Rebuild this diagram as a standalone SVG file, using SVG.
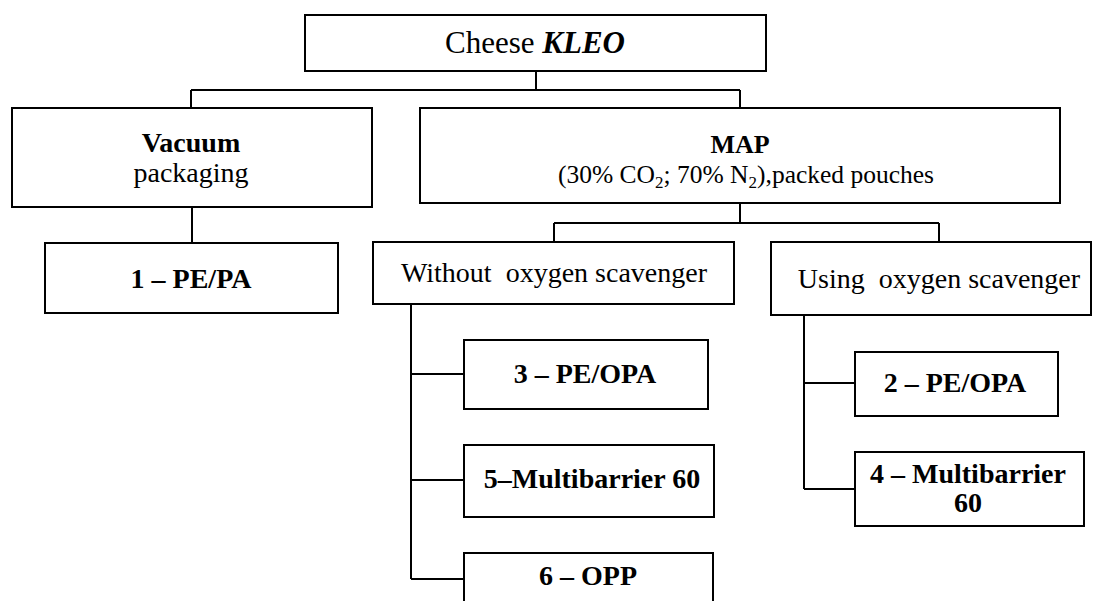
<svg xmlns="http://www.w3.org/2000/svg" width="1093" height="601" viewBox="0 0 1093 601">
  <style>
    .box { fill: #ffffff; stroke: #000000; stroke-width: 2; }
    .conn { fill: none; stroke: #000000; stroke-width: 2; }
    text { font-family: "Liberation Serif", "Times New Roman", serif; fill: #000000; text-anchor: middle; }
    .reg { font-size: 28px; }
    .b { font-size: 28px; font-weight: bold; }
  </style>
  <rect width="1093" height="601" fill="#ffffff"/>

  <g id="connectors">
    <path class="conn" d="M536,71 V90 M191,90 H740 M191,90 V108 M740,90 V108"/>
    <path class="conn" d="M192,207 V243"/>
    <path class="conn" d="M740,203 V223 M554,223 H939 M554,223 V242 M939,223 V242"/>
    <path class="conn" d="M411,304 V579 M411,374 H464 M411,480 H464 M411,579 H464"/>
    <path class="conn" d="M804,315 V489 M804,383 H855 M804,489 H855"/>
  </g>

  <g id="node-cheese">
    <rect class="box" x="305" y="15" width="461" height="56"/>
    <text x="535" y="53" style="font-size:31px">Cheese <tspan font-weight="bold" font-style="italic">KLEO</tspan></text>
  </g>

  <g id="node-vacuum">
    <rect class="box" x="12" y="108" width="360" height="99"/>
    <text class="b" x="191" y="152">Vacuum</text>
    <text class="reg" x="191" y="182">packaging</text>
  </g>

  <g id="node-map">
    <rect class="box" x="420" y="108" width="640" height="95"/>
    <text x="740" y="153" style="font-size:26px;font-weight:bold">MAP</text>
    <text x="746" y="183" style="font-size:25.5px">(30% CO<tspan dy="5" font-size="17">2</tspan><tspan dy="-5">; 70% N</tspan><tspan dy="5" font-size="17">2</tspan><tspan dy="-5">),packed pouches</tspan></text>
  </g>

  <g id="node-pepa1">
    <rect class="box" x="45" y="243" width="293" height="70"/>
    <text class="b" x="191" y="288">1 – PE/PA</text>
  </g>

  <g id="node-without">
    <rect class="box" x="373" y="242" width="361" height="62"/>
    <text class="reg" x="554" y="282" xml:space="preserve">Without  oxygen scavenger</text>
  </g>

  <g id="node-using">
    <rect class="box" x="771" y="242" width="320" height="73"/>
    <text class="reg" x="939" y="288" xml:space="preserve">Using  oxygen scavenger</text>
  </g>

  <g id="node-pe-opa3">
    <rect class="box" x="464" y="340" width="244" height="69"/>
    <text class="b" x="585" y="383">3 – PE/OPA</text>
  </g>

  <g id="node-multi5">
    <rect class="box" x="464" y="445" width="250" height="72"/>
    <text class="b" x="592" y="488">5–Multibarrier 60</text>
  </g>

  <g id="node-opp6">
    <rect class="box" x="464" y="553" width="249" height="70"/>
    <text class="b" x="588" y="585">6 – OPP</text>
  </g>

  <g id="node-pe-opa2">
    <rect class="box" x="855" y="352" width="203" height="64"/>
    <text class="b" x="955" y="392">2 – PE/OPA</text>
  </g>

  <g id="node-multi4">
    <rect class="box" x="855" y="452" width="229" height="74"/>
    <text class="b" x="968" y="483">4 – Multibarrier</text>
    <text class="b" x="968" y="512">60</text>
  </g>
</svg>
